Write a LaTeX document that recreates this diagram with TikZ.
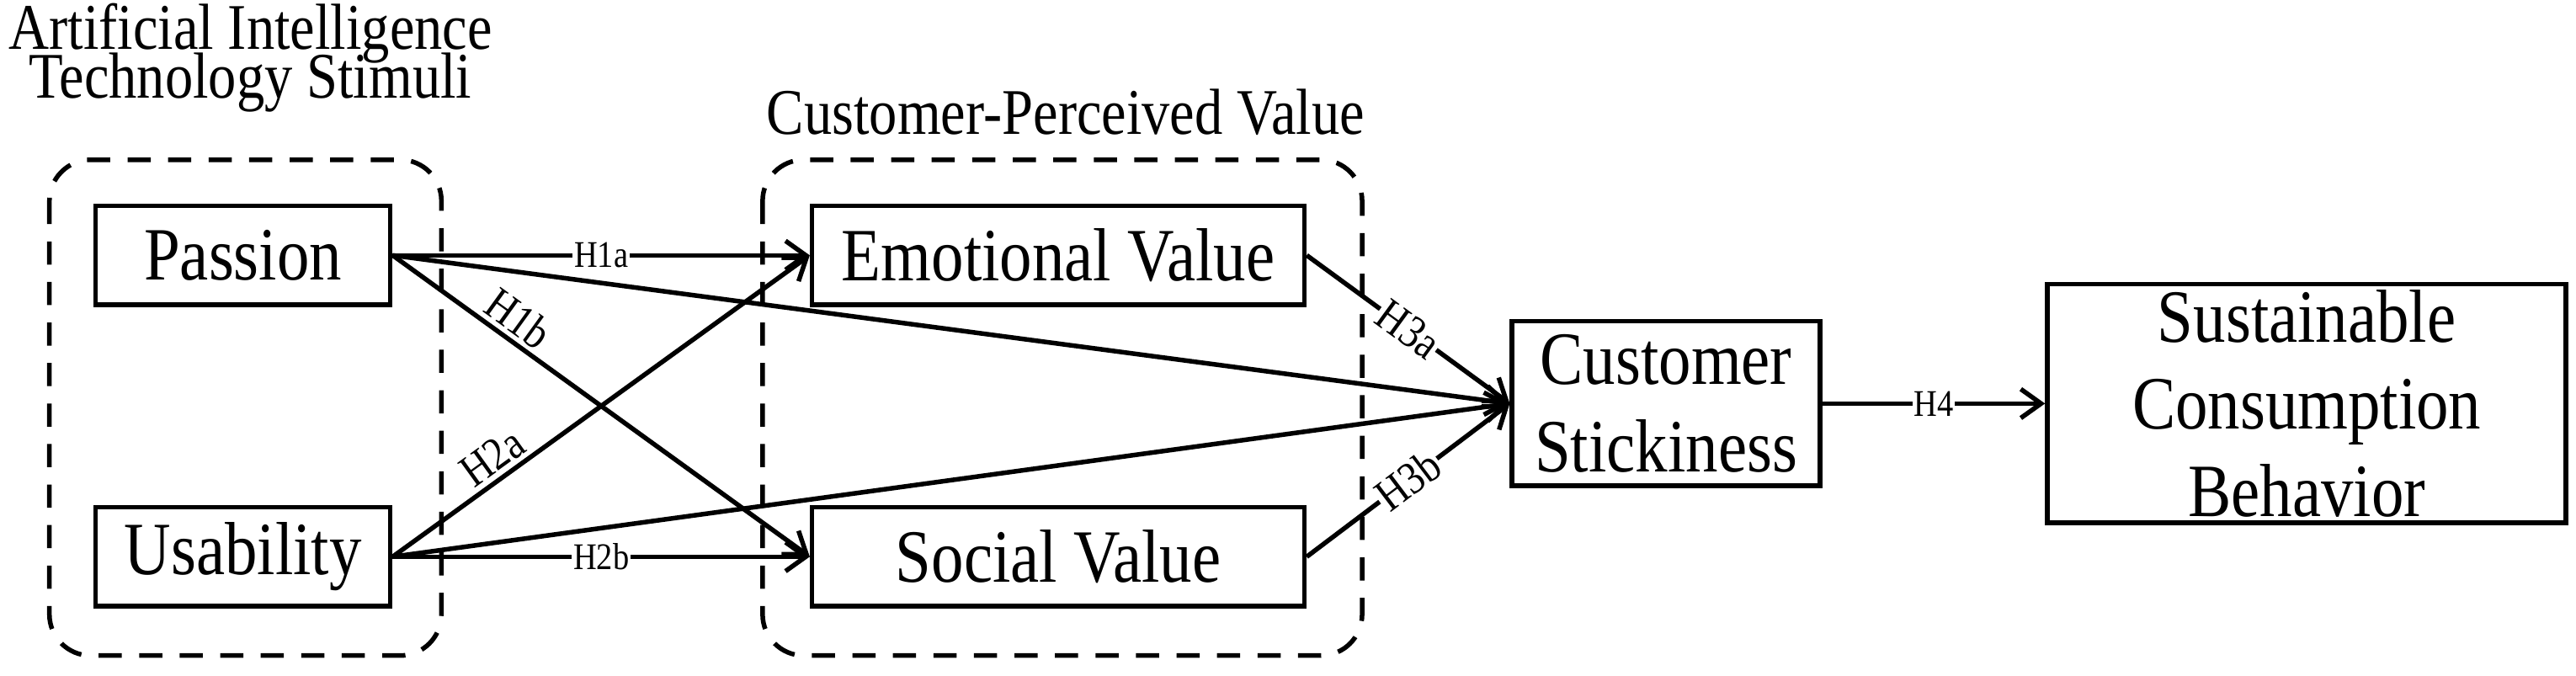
\documentclass[tikz,border=0pt]{standalone}
\usepackage{fontspec}
\setmainfont[FakeStretch=0.86]{Liberation Serif}
\usetikzlibrary{arrows.meta}
\begin{document}
\begin{tikzpicture}[x=0.02cm,y=-0.02cm,
  box/.style={draw,line width=1.6pt,minimum height=1.2cm,align=center,font=\fontsize{26}{30}\selectfont,inner sep=0pt},
  grp/.style={draw,dashed,line width=1.6pt,dash pattern=on 8pt off 6pt,rounded corners=0.5cm},
  ttl/.style={font=\fontsize{22.5}{25}\selectfont,inner sep=0pt},
  arr/.style={line width=1.6pt,-{Straight Barb[length=7pt,width=10pt,line width=1.6pt]}},
  lab/.style={fill=white,font=\fontsize{13}{14}\selectfont,inner sep=0.5pt,sloped},
  labb/.style={font=\fontsize{16}{17}\selectfont,inner sep=0.5pt,sloped}]
\useasboundingbox (0,0) rectangle (1564,410);
\node[ttl,anchor=west] (t1) at (5,20) {Artificial Intelligence};
\node[ttl] (t2) at (152,50) {Technology Stimuli};
\node[ttl] (t3) at (647,68) {Customer-Perceived Value};
\draw[grp] (30,97) rectangle (268,398);
\draw[grp] (463,97) rectangle (827,398);
\node[box,minimum width=3.58cm] (p) at (147.5,155) {Passion};
\node[box,minimum width=3.58cm] (u) at (147.5,338) {Usability};
\node[box,minimum width=5.98cm] (e) at (642.5,155) {Emotional Value};
\node[box,minimum width=5.98cm] (s) at (642.5,338) {Social Value};
\node[box,minimum width=3.74cm,minimum height=2cm] (c) at (1011.5,245) {Customer\\Stickiness};
\node[box,minimum width=6.3cm,minimum height=2.9cm] (b) at (1400.5,245) {Sustainable\\Consumption\\Behavior};
\draw[arr] (p.east) -- node[lab]{H1a} (e.west);
\draw[arr] (p.east) -- node[labb,pos=0.27,above=1pt]{H1b} (s.west);
\draw[arr] (u.east) -- node[labb,pos=0.27,above=1pt]{H2a} (e.west);
\draw[arr] (u.east) -- node[lab]{H2b} (s.west);
\draw[arr] (p.east) -- (c.west);
\draw[arr] (u.east) -- (c.west);
\draw[arr] (e.east) -- node[labb,fill=white,pos=0.5]{H3a} (c.west);
\draw[arr] (s.east) -- node[labb,fill=white,pos=0.5]{H3b} (c.west);
\draw[arr] (c.east) -- node[lab]{H4} (b.west);
\end{tikzpicture}
\end{document}
